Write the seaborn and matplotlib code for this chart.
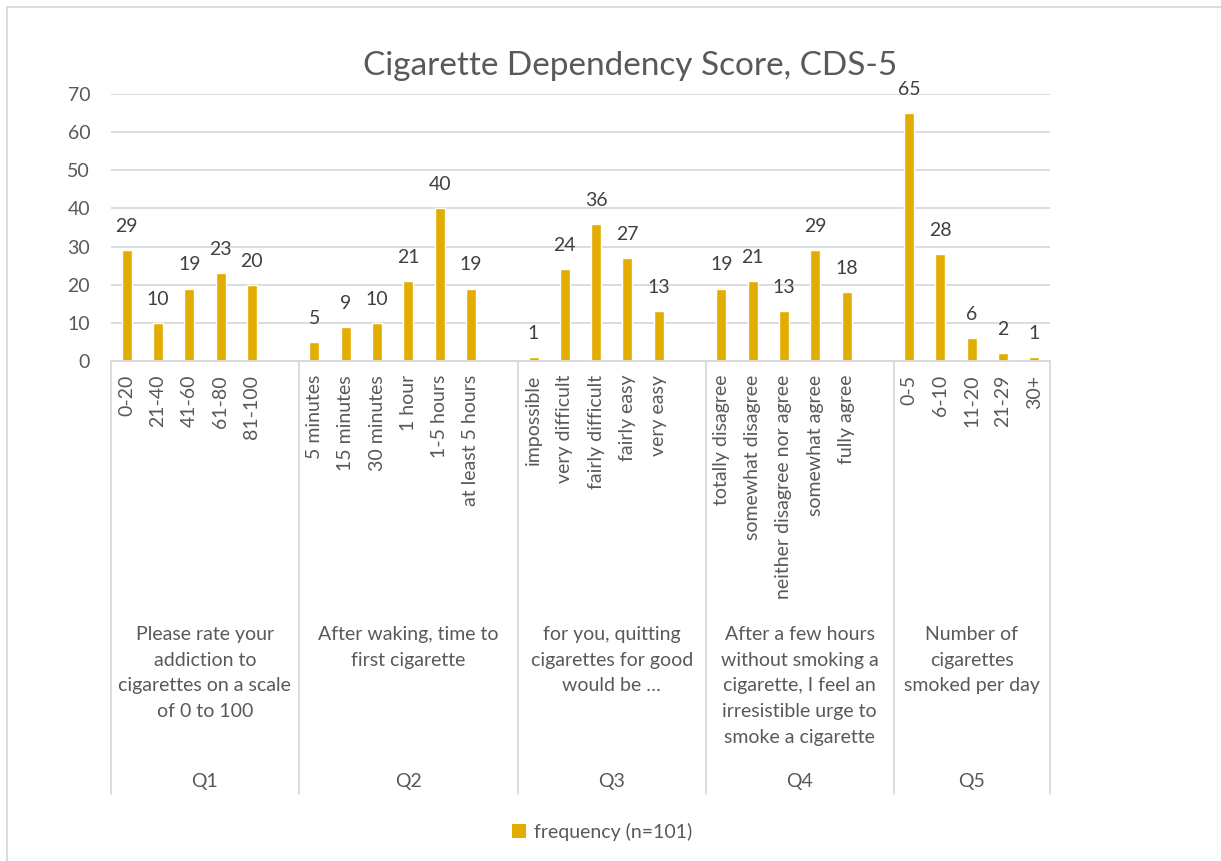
import matplotlib
matplotlib.use("Agg")
import matplotlib.pyplot as plt
import matplotlib.transforms as mtransforms
from matplotlib.patches import Patch, Rectangle
from matplotlib.lines import Line2D
import seaborn as sns
import pandas as pd

# ---- data -------------------------------------------------------------
questions = ["Q1", "Q2", "Q3", "Q4", "Q5"]
question_texts = [
    "Please rate your\naddiction to\ncigarettes on a scale\nof 0 to 100",
    "After waking, time to\nfirst cigarette",
    "for you, quitting\ncigarettes for good\nwould be …",
    "After a few hours\nwithout smoking a\ncigarette, I feel an\nirresistible urge to\nsmoke a cigarette",
    "Number of\ncigarettes\nsmoked per day",
]
q1_answers = ["0-20", "21-40", "41-60", "61-80", "81-100"]
q1_freq = [29, 10, 19, 23, 20]
q2_answers = ["5 minutes", "15 minutes", "30 minutes", "1 hour", "1-5 hours", "at least 5 hours"]
q2_freq = [5, 9, 10, 21, 40, 19]
q3_answers = ["impossible", "very difficult", "fairly difficult", "fairly easy", "very easy"]
q3_freq = [1, 24, 36, 27, 13]
q4_answers = ["totally disagree", "somewhat disagree", "neither disagree nor agree",
              "somewhat agree", "fully agree"]
q4_freq = [19, 21, 13, 29, 18]
q5_answers = ["0-5", "6-10", "11-20", "21-29", "30+"]
q5_freq = [65, 28, 6, 2, 1]
# an empty row follows each question except the last
blank_after = [1, 1, 1, 1, 0]

answers = [q1_answers, q2_answers, q3_answers, q4_answers, q5_answers]
freqs = [q1_freq, q2_freq, q3_freq, q4_freq, q5_freq]

# ---- build the slot table ------------------------------------------
rows, order, tick_labels, group_bounds = [], [], [], []
for q, ans, fr, nb in zip(questions, answers, freqs, blank_after):
    start = len(order)
    for a, f in zip(ans, fr):
        key = f"{q}|{a}"
        rows.append({"slot": key, "frequency": f})
        order.append(key)
        tick_labels.append(a)
    for i in range(nb):
        order.append(f"{q}|blank{i}")
        tick_labels.append("")
    group_bounds.append((start, len(order)))
df = pd.DataFrame(rows)

# ---- style ----------------------------------------------------------
BAR = "#E3AC00"
GRID = "#D9D9D9"
TXT = "#595959"
LBL = "#404040"
FS = 14

sns.set_theme(style="white")
plt.rcParams["font.family"] = ["Lato", "DejaVu Sans"]

W, H = 1221, 861
fig = plt.figure(figsize=(W / 100, H / 100), dpi=100)
ax = fig.add_axes([111 / W, 1 - 361 / H, (1050 - 111) / W, (361 - 94) / H])

sns.barplot(data=df, x="slot", y="frequency", order=order, color=BAR,
            saturation=1, width=0.32, ax=ax)

ax.set_xlim(-0.5, len(order) - 0.5)
ax.set_ylim(0, 70)
ax.set_yticks(range(0, 71, 10))
ax.yaxis.grid(True, color=GRID, lw=1.3)
ax.set_axisbelow(True)
for s in ["top", "right", "left"]:
    ax.spines[s].set_visible(False)
ax.spines["bottom"].set_color(GRID)
ax.spines["bottom"].set_linewidth(1.3)
ax.set_xlabel("")
ax.set_ylabel("")

ax.set_xticks(range(len(order)))
ax.set_xticklabels(tick_labels, rotation=90, fontsize=FS, color=TXT)
ax.tick_params(axis="x", length=0, pad=10)
ax.tick_params(axis="y", length=0, pad=15, labelsize=FS, labelcolor=TXT)

# value labels above bars
for cont in ax.containers:
    for bar in cont:
        h = bar.get_height()
        if h != h:  # NaN
            continue
        ax.annotate(f"{int(h)}", (bar.get_x() + bar.get_width() / 2, h),
                    xytext=(0, 13), textcoords="offset points",
                    ha="center", va="baseline", fontsize=FS, color=LBL)

# multi-level category axis: separators, question texts, question ids
trans = mtransforms.blended_transform_factory(ax.transData, fig.transFigure)
y_axis = 1 - 361 / H
y_sep_end = 1 - 794 / H
edges = sorted({b for g in group_bounds for b in g})
for e in edges:
    fig.add_artist(Line2D([e - 0.5, e - 0.5], [y_axis, y_sep_end], transform=trans,
                          color=GRID, lw=1.3, clip_on=False))
for (s, e), q, qt in zip(group_bounds, questions, question_texts):
    xc = (s + e - 1) / 2
    fig.text(xc, 1 - 626 / H, qt, transform=trans, ha="center", va="top",
             fontsize=FS, color=TXT, linespacing=1.62, multialignment="center")
    fig.text(xc, 1 - 781 / H, q, transform=trans, ha="center", va="center",
             fontsize=FS, color=TXT)

# title
fig.text(630 / W, 1 - 75 / H, "Cigarette Dependency Score, CDS-5", ha="center",
         va="baseline", fontsize=24, color=TXT)

# legend
fig.legend(handles=[Patch(facecolor=BAR, edgecolor="none", label="frequency (n=101)")],
           loc="center", bbox_to_anchor=(602 / W, 1 - 832 / H), frameon=False,
           fontsize=FS, labelcolor=TXT, handlelength=0.7, handleheight=0.7,
           handletextpad=0.4)

# chart border
fig.add_artist(Rectangle((7 / W, -0.1), 1.2, 1.1 - 7 / H, transform=fig.transFigure,
                         fill=False, edgecolor=GRID, lw=1.3))

fig.savefig("out.png", dpi=100, facecolor="white")
